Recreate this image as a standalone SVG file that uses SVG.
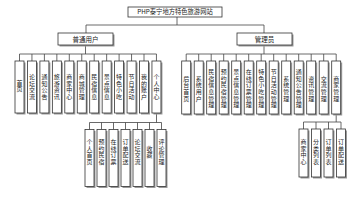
<svg xmlns="http://www.w3.org/2000/svg" width="356" height="200" viewBox="0 0 356 200">
<style>
.b{fill:#fff;stroke:#333;stroke-width:0.8}
.s{fill:#9a9a9a}
.c{fill:none;stroke:#444;stroke-width:0.8}
.t{font-family:"Noto Sans CJK SC","Noto Sans",sans-serif;font-size:6px;fill:#222;text-anchor:middle}
</style>
<rect width="356" height="200" fill="#fff"/>
<g id="connectors">
<path class="c" d="M177 17V25M86 25H264M86 25V33M264 25V33"/>
<path class="c" d="M85.5 45V54M19.5 54H156.5M19.5 54V61M31.95 54V61M44.4 54V61M56.85 54V61M69.3 54V61M81.75 54V61M94.2 54V61M106.65 54V61M119.1 54V61M131.55 54V61M144 54V61M156.45 54V61"/>
<path class="c" d="M264 46V54M186.2 54H336.2M186.2 54V61M198.7 54V61M211.2 54V61M223.7 54V61M236.2 54V61M248.7 54V61M261.2 54V61M273.7 54V61M286.2 54V61M298.7 54V61M311.2 54V61M323.7 54V61M336.2 54V61"/>
<path class="c" d="M156.5 113V122.5M89.5 122.5H161.5M89.5 122.5V129.5M101.5 122.5V129.5M113.5 122.5V129.5M125.5 122.5V129.5M137.5 122.5V129.5M149.5 122.5V129.5M161.5 122.5V129.5"/>
<path class="c" d="M336.2 114V122M303.5 122H341M303.5 122V129M316 122V129M328.5 122V129M341 122V129"/>
</g>
<g id="root">
<rect class="b" x="128" y="7" width="94" height="10"/>
<text class="t" x="175" y="14.2" style="font-size:6.3px">PHP泰宁地方特色旅游网站</text>
</g>
<g id="user">
<rect class="s" x="59.5" y="34.5" width="55" height="12"/>
<rect class="b" x="58" y="33" width="55" height="12"/>
<text class="t" x="85.5" y="41.5" style="font-size:6.5px">普通用户</text>
</g>
<g id="admin">
<rect class="s" x="238.5" y="34.5" width="55" height="12"/>
<rect class="b" x="237" y="33" width="55" height="12"/>
<text class="t" x="264.5" y="41.5" style="font-size:6.5px">管理员</text>
</g>
<g id="u1"><rect class="s" x="16.5" y="62.5" width="9" height="52"/><rect class="b" x="15" y="61" width="9" height="52"/><text class="t" x="19.5 19.5" y="84.8 91.4">首页</text></g>
<g id="u2"><rect class="s" x="28.95" y="62.5" width="9" height="52"/><rect class="b" x="27.45" y="61" width="9" height="52"/><text class="t" x="31.95 31.95 31.95 31.95" y="79.2 85.8 92.4 99">论坛交流</text></g>
<g id="u3"><rect class="s" x="41.4" y="62.5" width="9" height="52"/><rect class="b" x="39.9" y="61" width="9" height="52"/><text class="t" x="44.4 44.4 44.4 44.4" y="79.2 85.8 92.4 99">通知公告</text></g>
<g id="u4"><rect class="s" x="53.85" y="62.5" width="9" height="52"/><rect class="b" x="52.35" y="61" width="9" height="52"/><text class="t" x="56.85 56.85 56.85 56.85" y="79.2 85.8 92.4 99">旅游资讯</text></g>
<g id="u5"><rect class="s" x="66.3" y="62.5" width="9" height="52"/><rect class="b" x="64.8" y="61" width="9" height="52"/><text class="t" x="69.3 69.3 69.3 69.3" y="79.2 85.8 92.4 99">商家中心</text></g>
<g id="u6"><rect class="s" x="78.75" y="62.5" width="9" height="52"/><rect class="b" x="77.25" y="61" width="9" height="52"/><text class="t" x="81.75 81.75 81.75 81.75" y="79.2 85.8 92.4 99">商城管理</text></g>
<g id="u7"><rect class="s" x="91.2" y="62.5" width="9" height="52"/><rect class="b" x="89.7" y="61" width="9" height="52"/><text class="t" x="94.2 94.2 94.2 94.2" y="79.2 85.8 92.4 99">民宿信息</text></g>
<g id="u8"><rect class="s" x="103.65" y="62.5" width="9" height="52"/><rect class="b" x="102.15" y="61" width="9" height="52"/><text class="t" x="106.65 106.65 106.65 106.65" y="79.2 85.8 92.4 99">景点信息</text></g>
<g id="u9"><rect class="s" x="116.1" y="62.5" width="9" height="52"/><rect class="b" x="114.6" y="61" width="9" height="52"/><text class="t" x="119.1 119.1 119.1 119.1" y="79.2 85.8 92.4 99">特色小吃</text></g>
<g id="u10"><rect class="s" x="128.55" y="62.5" width="9" height="52"/><rect class="b" x="127.05" y="61" width="9" height="52"/><text class="t" x="131.55 131.55 131.55 131.55" y="79.2 85.8 92.4 99">节日活动</text></g>
<g id="u11"><rect class="s" x="141" y="62.5" width="9" height="52"/><rect class="b" x="139.5" y="61" width="9" height="52"/><text class="t" x="144 144 144 144" y="79.2 85.8 92.4 99">我的账户</text></g>
<g id="u12"><rect class="s" x="153.45" y="62.5" width="9" height="52"/><rect class="b" x="151.95" y="61" width="9" height="52"/><text class="t" x="156.45 156.45 156.45 156.45" y="79.2 85.8 92.4 99">个人中心</text></g>
<g id="a1"><rect class="s" x="183.2" y="62.5" width="9" height="53"/><rect class="b" x="181.7" y="61" width="9" height="53"/><text class="t" x="186.2 186.2 186.2 186.2" y="80.7 87.3 93.9 100.5">后台首页</text></g>
<g id="a2"><rect class="s" x="195.7" y="62.5" width="9" height="53"/><rect class="b" x="194.2" y="61" width="9" height="53"/><text class="t" x="198.7 198.7 198.7 198.7" y="80.7 87.3 93.9 100.5">系统用户</text></g>
<g id="a3"><rect class="s" x="208.2" y="62.5" width="9" height="53"/><rect class="b" x="206.7" y="61" width="9" height="53"/><text class="t" x="211.2 211.2 211.2 211.2 211.2 211.2" y="74.1 80.7 87.3 93.9 100.5 107.1">民宿信息管理</text></g>
<g id="a4"><rect class="s" x="220.7" y="62.5" width="9" height="53"/><rect class="b" x="219.2" y="61" width="9" height="53"/><text class="t" x="223.7 223.7 223.7 223.7 223.7 223.7" y="74.1 80.7 87.3 93.9 100.5 107.1">预约民宿管理</text></g>
<g id="a5"><rect class="s" x="233.2" y="62.5" width="9" height="53"/><rect class="b" x="231.7" y="61" width="9" height="53"/><text class="t" x="236.2 236.2 236.2 236.2 236.2 236.2" y="74.1 80.7 87.3 93.9 100.5 107.1">景点信息管理</text></g>
<g id="a6"><rect class="s" x="245.7" y="62.5" width="9" height="53"/><rect class="b" x="244.2" y="61" width="9" height="53"/><text class="t" x="248.7 248.7 248.7 248.7 248.7 248.7" y="74.1 80.7 87.3 93.9 100.5 107.1">在线订票管理</text></g>
<g id="a7"><rect class="s" x="258.2" y="62.5" width="9" height="53"/><rect class="b" x="256.7" y="61" width="9" height="53"/><text class="t" x="261.2 261.2 261.2 261.2 261.2 261.2" y="74.1 80.7 87.3 93.9 100.5 107.1">特色小吃管理</text></g>
<g id="a8"><rect class="s" x="270.7" y="62.5" width="9" height="53"/><rect class="b" x="269.2" y="61" width="9" height="53"/><text class="t" x="273.7 273.7 273.7 273.7 273.7 273.7" y="74.1 80.7 87.3 93.9 100.5 107.1">节日活动管理</text></g>
<g id="a9"><rect class="s" x="283.2" y="62.5" width="9" height="53"/><rect class="b" x="281.7" y="61" width="9" height="53"/><text class="t" x="286.2 286.2 286.2 286.2" y="80.7 87.3 93.9 100.5">系统管理</text></g>
<g id="a10"><rect class="s" x="295.7" y="62.5" width="9" height="53"/><rect class="b" x="294.2" y="61" width="9" height="53"/><text class="t" x="298.7 298.7 298.7 298.7 298.7 298.7" y="74.1 80.7 87.3 93.9 100.5 107.1">通知公告管理</text></g>
<g id="a11"><rect class="s" x="308.2" y="62.5" width="9" height="53"/><rect class="b" x="306.7" y="61" width="9" height="53"/><text class="t" x="311.2 311.2 311.2 311.2" y="80.7 87.3 93.9 100.5">资讯管理</text></g>
<g id="a12"><rect class="s" x="320.7" y="62.5" width="9" height="53"/><rect class="b" x="319.2" y="61" width="9" height="53"/><text class="t" x="323.7 323.7 323.7 323.7" y="80.7 87.3 93.9 100.5">交流管理</text></g>
<g id="a13"><rect class="s" x="333.2" y="62.5" width="9" height="53"/><rect class="b" x="331.7" y="61" width="9" height="53"/><text class="t" x="336.2 336.2 336.2 336.2" y="80.7 87.3 93.9 100.5">商家管理</text></g>
<g id="p1"><rect class="s" x="86.5" y="131" width="9" height="57"/><rect class="b" x="85" y="129.5" width="9" height="57"/><text class="t" x="89.5 89.5 89.5 89.5" y="144.2 150.8 157.4 164">个人首页</text></g>
<g id="p2"><rect class="s" x="98.5" y="131" width="9" height="57"/><rect class="b" x="97" y="129.5" width="9" height="57"/><text class="t" x="101.5 101.5 101.5 101.5" y="144.2 150.8 157.4 164">预约民宿</text></g>
<g id="p3"><rect class="s" x="110.5" y="131" width="9" height="57"/><rect class="b" x="109" y="129.5" width="9" height="57"/><text class="t" x="113.5 113.5 113.5 113.5" y="144.2 150.8 157.4 164">在线订票</text></g>
<g id="p4"><rect class="s" x="122.5" y="131" width="9" height="57"/><rect class="b" x="121" y="129.5" width="9" height="57"/><text class="t" x="125.5 125.5 125.5 125.5" y="144.2 150.8 157.4 164">订单配送</text></g>
<g id="p5"><rect class="s" x="134.5" y="131" width="9" height="57"/><rect class="b" x="133" y="129.5" width="9" height="57"/><text class="t" x="137.5 137.5 137.5 137.5" y="144.2 150.8 157.4 164">论坛交流</text></g>
<g id="p6"><rect class="s" x="146.5" y="131" width="9" height="57"/><rect class="b" x="145" y="129.5" width="9" height="57"/><text class="t" x="149.5 149.5" y="150.8 157.4">收藏</text></g>
<g id="p7"><rect class="s" x="158.5" y="131" width="9" height="57"/><rect class="b" x="157" y="129.5" width="9" height="57"/><text class="t" x="161.5 161.5 161.5 161.5" y="144.2 150.8 157.4 164">评论管理</text></g>
<g id="m1"><rect class="s" x="300.5" y="130.5" width="9" height="48"/><rect class="b" x="299" y="129" width="9" height="48"/><text class="t" x="303.5 303.5 303.5 303.5" y="144.2 150.8 157.4 164">商家中心</text></g>
<g id="m2"><rect class="s" x="313" y="130.5" width="9" height="48"/><rect class="b" x="311.5" y="129" width="9" height="48"/><text class="t" x="316 316 316 316" y="144.2 150.8 157.4 164">分类列表</text></g>
<g id="m3"><rect class="s" x="325.5" y="130.5" width="9" height="48"/><rect class="b" x="324" y="129" width="9" height="48"/><text class="t" x="328.5 328.5 328.5 328.5" y="144.2 150.8 157.4 164">订单列表</text></g>
<g id="m4"><rect class="s" x="338" y="130.5" width="9" height="48"/><rect class="b" x="336.5" y="129" width="9" height="48"/><text class="t" x="341 341 341 341" y="144.2 150.8 157.4 164">订单配送</text></g>
</svg>
